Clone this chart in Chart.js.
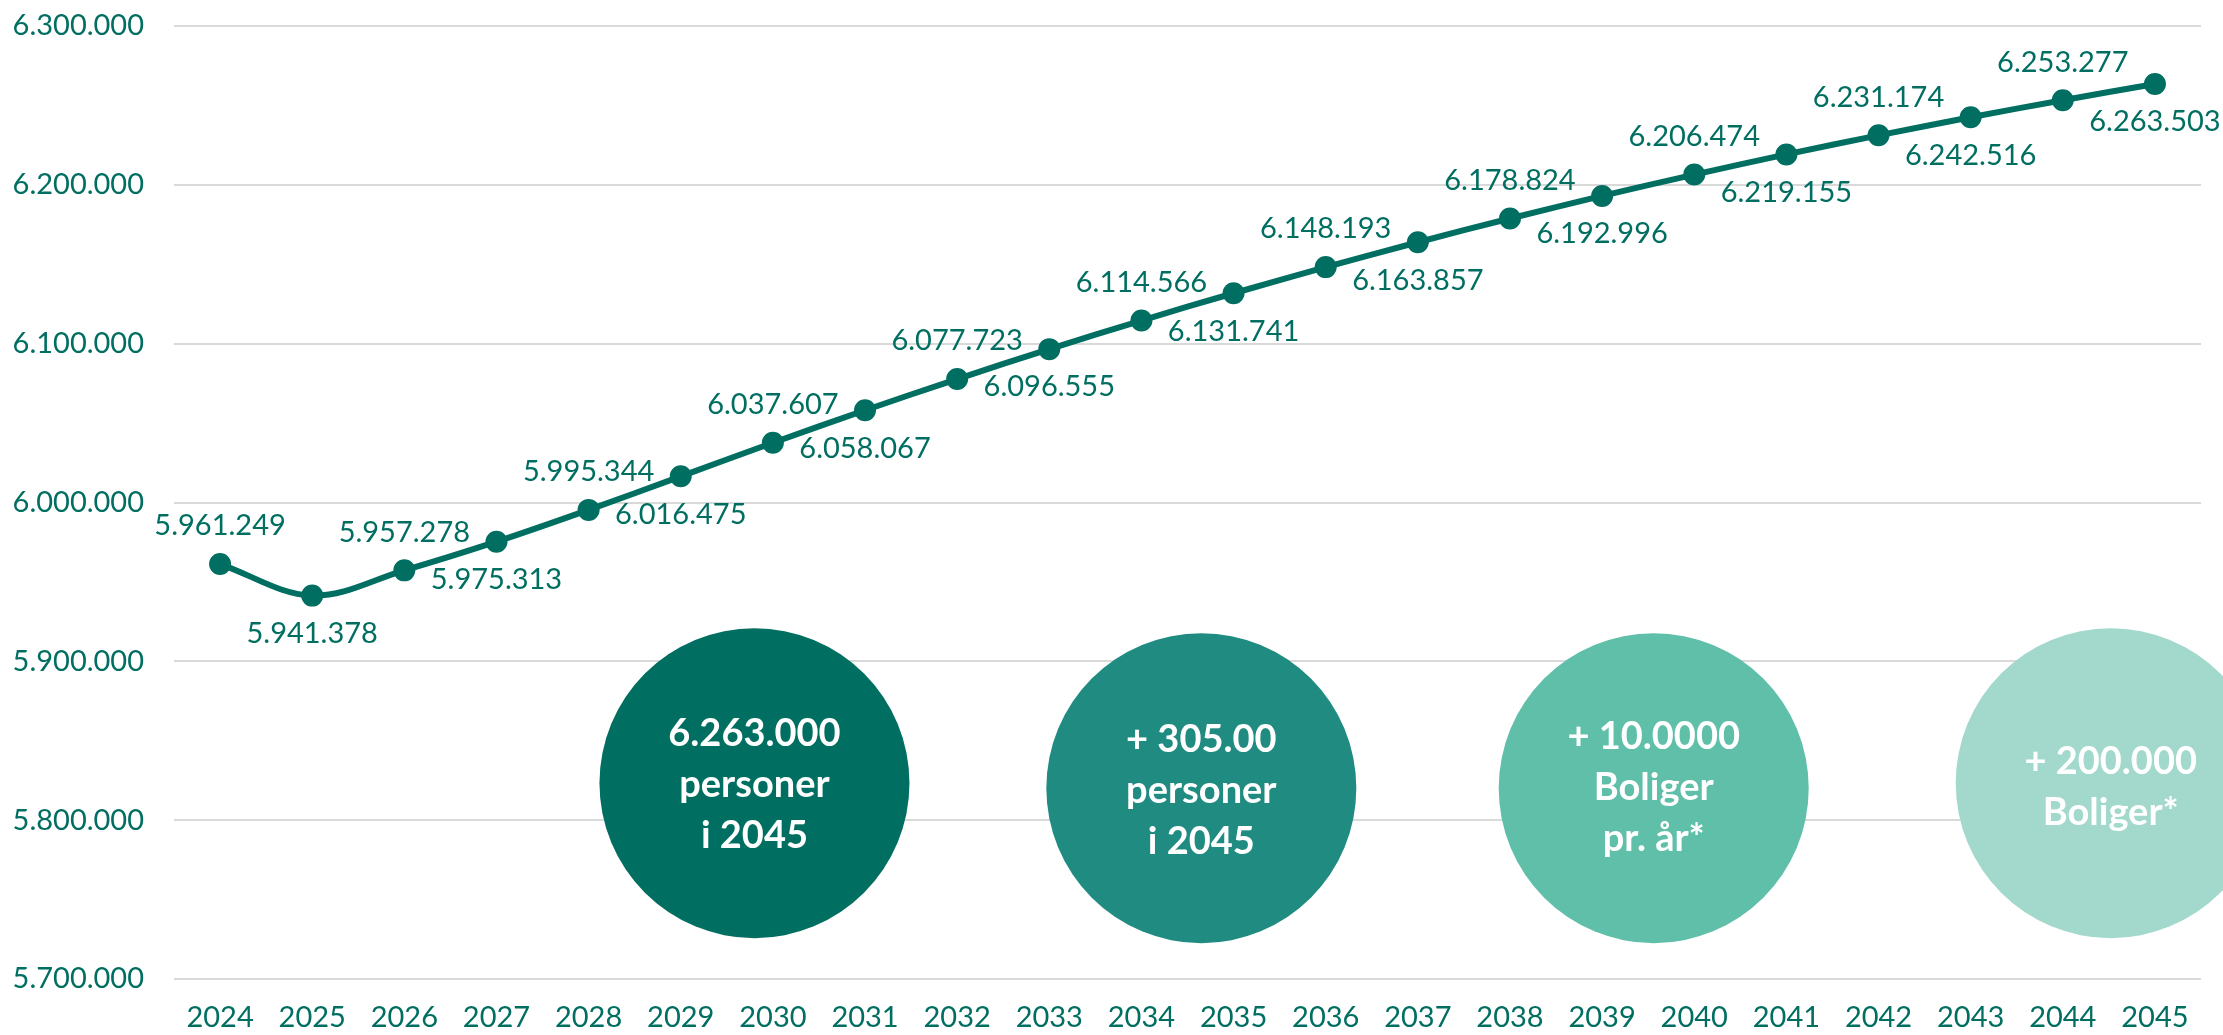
<!DOCTYPE html>
<html>
<head>
<meta charset="utf-8">
<script src="https://cdn.jsdelivr.net/npm/chart.js@4.4.0/dist/chart.umd.min.js"></script>
<style>
  body { margin: 0; background: #fff; }
  #wrap { width: 2223px; height: 1035px; position: relative; }
</style>
</head>
<body>
<div id="wrap"><canvas id="myChart"></canvas></div>
<script>
// data
const years = ['2024', '2025', '2026', '2027', '2028', '2029', '2030', '2031', '2032', '2033', '2034',
  '2035', '2036', '2037', '2038', '2039', '2040', '2041', '2042', '2043', '2044', '2045'];
const population = [5961249, 5941378, 5957278, 5975313, 5995344, 6016475, 6037607, 6058067, 6077723,
  6096555, 6114566, 6131741, 6148193, 6163857, 6178824, 6192996, 6206474, 6219155, 6231174,
  6242516, 6253277, 6263503];
const yTicks = [5700000, 5800000, 5900000, 6000000, 6100000, 6200000, 6300000];

// the four key figure bubbles
const bubbleTexts = [
  ['6.263.000', 'personer', 'i 2045'],
  ['+ 305.00', 'personer', 'i 2045'],
  ['+ 10.0000', 'Boliger', 'pr. år*'],
  ['+ 200.000', 'Boliger*']
];
const bubbleColors = ['#006E61', '#1F8B81', '#60BFA9', '#A2D9CC'];

const teal = '#006E61';
Chart.defaults.font.family = 'Lato, sans-serif';
Chart.defaults.font.size = 29;
Chart.defaults.color = teal;

const fmt = v => String(v).replace(/\B(?=(\d{3})+(?!\d))/g, '.');

// value labels, alternating above / below the points
const valueLabels = {
  id: 'valueLabels',
  afterDatasetsDraw(chart) {
    const ctx = chart.ctx;
    const meta = chart.getDatasetMeta(0);
    ctx.save();
    ctx.font = '29px Lato, sans-serif';
    ctx.fillStyle = teal;
    ctx.textAlign = 'center';
    ctx.textBaseline = 'middle';
    meta.data.forEach((pt, i) => {
      const dy = i % 2 === 0 ? -38 : 38;
      ctx.fillText(fmt(population[i]), pt.x, pt.y + dy);
    });
    ctx.restore();
  }
};

// circles placed in data space (category index, value)
const bubbles = {
  id: 'bubbles',
  afterDatasetsDraw(chart, args, opts) {
    const ctx = chart.ctx;
    const xs = chart.scales.x, ys = chart.scales.y;
    ctx.save();
    opts.items.forEach((b, k) => {
      const cx = xs.getPixelForValue(b.x);
      const cy = ys.getPixelForValue(b.y);
      ctx.beginPath();
      ctx.arc(cx, cy, opts.radius, 0, Math.PI * 2);
      ctx.fillStyle = bubbleColors[k];
      ctx.fill();
      const lines = bubbleTexts[k];
      ctx.fillStyle = '#fff';
      ctx.font = 'bold 38px Lato, sans-serif';
      ctx.textAlign = 'center';
      ctx.textBaseline = 'middle';
      const lh = 51;
      const top = cy + b.dy - (lines.length - 1) * lh / 2;
      lines.forEach((t, j) => ctx.fillText(t, cx, top + j * lh));
    });
    ctx.restore();
  }
};

const config = {
  type: 'line',
  data: {
    labels: years,
    datasets: [{
      data: population,
      borderColor: teal,
      backgroundColor: teal,
      borderWidth: 6,
      pointRadius: 8,
      pointHoverRadius: 8,
      tension: 0.35,
      fill: false
    }]
  },
  options: {
    responsive: true,
    maintainAspectRatio: false,
    animation: false,
    layout: { padding: { left: 0, right: 22, top: 26, bottom: 0 } },
    plugins: {
      legend: { display: false },
      tooltip: { enabled: false },
      bubbles: {
        radius: 155,
        items: [
          { x: 5.80, y: 5823300, dy: 2 },
          { x: 10.65, y: 5820150, dy: 3 },
          { x: 15.56, y: 5820150, dy: 0 },
          { x: 20.52, y: 5823300, dy: 4 }
        ]
      }
    },
    scales: {
      x: {
        offset: true,
        grid: { display: false, drawTicks: false },
        border: { display: false },
        ticks: { padding: 21, color: teal, maxRotation: 0, autoSkip: false },
        afterFit: s => { s.height = 56; }
      },
      y: {
        min: 5700000,
        max: 6300000,
        afterBuildTicks: s => { s.ticks = yTicks.map(v => ({ value: v })); },
        grid: { color: '#D9D9D9', lineWidth: 2, drawTicks: false },
        border: { display: false },
        ticks: { padding: 30, color: teal, callback: v => fmt(v) },
        afterFit: s => { s.width = 174; s.paddingTop = 0; s.paddingBottom = 0; }
      }
    }
  },
  plugins: [bubbles, valueLabels]
};

const myChart = new Chart(document.getElementById('myChart'), config);
</script>
</body>
</html>
